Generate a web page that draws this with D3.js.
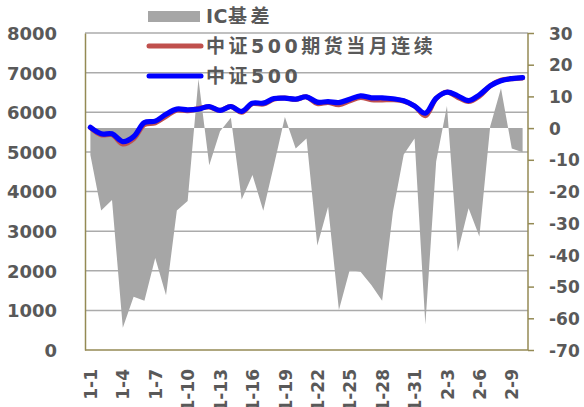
<!DOCTYPE html>
<html>
<head>
<meta charset="utf-8">
<script src="https://cdn.jsdelivr.net/npm/d3@7"></script>
<style>
  html, body { margin: 0; padding: 0; background: #fff; }
  svg { display: block; }
  .lbl { font-family: "DejaVu Sans", "Noto Sans CJK SC", sans-serif; font-weight: bold; fill: #595959; }
</style>
</head>
<body>
<svg id="chart" width="584" height="407"></svg>
<script>
// Trading-day labels, January 1 to February 10
const dates = [
  "1-1","1-2","1-3","1-4","1-5","1-6","1-7","1-8","1-9","1-10",
  "1-11","1-12","1-13","1-14","1-15","1-16","1-17","1-18","1-19","1-20",
  "1-21","1-22","1-23","1-24","1-25","1-26","1-27","1-28","1-29","1-30",
  "1-31","2-1","2-2","2-3","2-4","2-5","2-6","2-7","2-8","2-9","2-10"
];

// 中证500 index close
const csi500 = [
  5620, 5455, 5455, 5260, 5385, 5740, 5775, 5950, 6080, 6060,
  6080, 6145, 6045, 6145, 6020, 6230, 6230, 6345, 6355, 6330,
  6390, 6255, 6270, 6245, 6330, 6415, 6365, 6365, 6340, 6290,
  6160, 5975, 6355, 6505, 6415, 6295, 6440, 6665, 6795, 6850, 6875
];

// 中证500 front-month futures (continuous)
const icFront = [
  5612, 5429, 5432, 5197, 5332, 5686, 5734, 5897, 6054, 6037,
  6096, 6133, 6044, 6148, 5998, 6215, 6204, 6334, 6359, 6324,
  6387, 6218, 6245, 6188, 6285, 6370, 6316, 6311, 6314, 6282,
  6157, 5913, 6345, 6512, 6376, 6270, 6406, 6666, 6808, 6844, 6867
];

// IC basis (futures minus index), right axis
const icBasis = [
  -8.5, -26, -22.7, -63, -53.2, -54.5, -41, -52.7, -26, -23,
  15.5, -11.7, -1, 3.3, -22.5, -14.8, -26.1, -11.5, 3.5, -6.4,
  -3.3, -37, -24.8, -57.4, -44.8, -45.3, -49.5, -54.5, -26.4, -8.3,
  -3.3, -62, -10.5, 7, -39, -25.3, -34.2, 0.5, 12.6, -6.4, -7.6
];

const leftTicks = [0, 1000, 2000, 3000, 4000, 5000, 6000, 7000, 8000];
const rightTicks = [30, 20, 10, 0, -10, -20, -30, -40, -50, -60, -70];
const xTickLabels = ["1-1","1-4","1-7","1-10","1-13","1-16","1-19","1-22","1-25","1-28","1-31","2-3","2-6","2-9"];

const legendItems = [
  { name: "IC基差", kind: "rect", color: "#A6A6A6" },
  { name: "中证500期货当月连续", kind: "line", color: "#C0504D" },
  { name: "中证500", kind: "line", color: "#0000FF" }
];

const svg = d3.select("#chart");
const plot = { left: 85, right: 528, top: 33, bottom: 350 };
const axisColor = "#948A54";
const gridColor = "#ABABAB";
const plain = d => String(d); // ASCII hyphen for negatives

const x = d3.scalePoint().domain(dates).range([plot.left, plot.right]).padding(0.5);
const yL = d3.scaleLinear().domain([0, 8000]).range([plot.bottom, plot.top]);
const yR = d3.scaleLinear().domain([-70, 30]).range([plot.bottom, plot.top]);

// Horizontal gridlines on the left-axis ticks
svg.append("g")
  .selectAll("line")
  .data(leftTicks.filter(d => d > 0))
  .join("line")
  .attr("x1", plot.left).attr("x2", plot.right)
  .attr("y1", d => yL(d)).attr("y2", d => yL(d))
  .attr("stroke", gridColor).attr("stroke-width", 1.5);

// Basis area against the right axis
const area = d3.area()
  .x((d, i) => x(dates[i]))
  .y0(yR(0))
  .y1(d => yR(d));
svg.append("path")
  .datum(icBasis)
  .attr("d", area)
  .attr("fill", "#A6A6A6");

// Futures and index lines
const line = d3.line()
  .x((d, i) => x(dates[i]))
  .y(d => yL(d))
  .curve(d3.curveCatmullRom.alpha(0.5));

svg.append("path")
  .datum(icFront)
  .attr("d", line)
  .attr("fill", "none")
  .attr("stroke", "#C0504D")
  .attr("stroke-width", 5)
  .attr("stroke-linejoin", "round")
  .attr("stroke-linecap", "round");

svg.append("path")
  .datum(csi500)
  .attr("d", line)
  .attr("fill", "none")
  .attr("stroke", "#0000FF")
  .attr("stroke-width", 5.2)
  .attr("stroke-linejoin", "round")
  .attr("stroke-linecap", "round");

// Left axis
const leftAxis = svg.append("g")
  .attr("transform", `translate(${plot.left},0)`)
  .call(d3.axisLeft(yL).tickValues(leftTicks).tickSize(0).tickPadding(28).tickFormat(plain));
leftAxis.select(".domain").attr("stroke", axisColor).attr("stroke-width", 1.5);
leftAxis.selectAll("text").attr("class", "lbl").attr("font-size", 18).attr("dy", "0.36em");

// Right axis
const rightAxis = svg.append("g")
  .attr("transform", `translate(${plot.right},0)`)
  .call(d3.axisRight(yR).tickValues(rightTicks).tickSize(6).tickPadding(15).tickFormat(plain));
rightAxis.select(".domain").attr("stroke", axisColor).attr("stroke-width", 1.5)
  .attr("d", `M0,${plot.top}V${plot.bottom}`);
rightAxis.selectAll(".tick line").attr("stroke", axisColor).attr("stroke-width", 1.5);
rightAxis.selectAll("text").attr("class", "lbl").attr("font-size", 17).attr("dy", "0.36em");

// Category axis
const bottomAxis = svg.append("g")
  .attr("transform", `translate(0,${plot.bottom})`)
  .call(d3.axisBottom(x).tickValues(xTickLabels).tickSize(0).tickPadding(0));
bottomAxis.select(".domain").attr("stroke", axisColor).attr("stroke-width", 1.5)
  .attr("d", `M${plot.left},0H${plot.right}`);
bottomAxis.selectAll("text")
  .attr("class", "lbl")
  .attr("font-size", 17)
  .attr("text-anchor", "end")
  .attr("transform", "translate(0,19) rotate(-90)")
  .attr("x", 0).attr("y", 0)
  .attr("dy", "0.36em");

// Legend
const legend = svg.append("g");
const rowY = [16.5, 46, 76];
legendItems.forEach((item, i) => {
  const g = legend.append("g").attr("transform", `translate(0,${rowY[i]})`);
  if (item.kind === "rect") {
    g.append("rect").attr("x", 148).attr("y", -5.5).attr("width", 52).attr("height", 11).attr("fill", item.color);
  } else {
    g.append("line").attr("x1", 149).attr("x2", 201).attr("y1", 0).attr("y2", 0)
      .attr("stroke", item.color).attr("stroke-width", 5).attr("stroke-linecap", "round");
  }
  const t = g.append("text")
    .attr("class", "lbl")
    .attr("x", 206)
    .attr("y", 0)
    .attr("dy", "0.36em")
    .attr("font-size", 19);
  // CJK glyphs are set loosely, Latin letters tight, digits in between
  const runs = item.name.match(/[A-Za-z]+|[0-9]+|[^A-Za-z0-9]+/g);
  runs.forEach(r => {
    const ls = /^[A-Za-z]+$/.test(r) ? 0.5 : 3.5;
    t.append("tspan").attr("letter-spacing", ls).text(r);
  });
});
</script>
</body>
</html>
